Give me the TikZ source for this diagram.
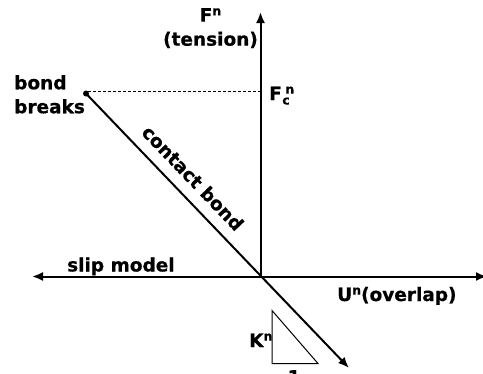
\documentclass[tikz,border=0pt]{standalone}
\usepackage{fontspec}
\setmainfont{DejaVu Sans}[BoldFeatures={FakeBold=0.6}]
\usetikzlibrary{arrows.meta}
\newcommand{\supn}{\raisebox{6.4pt}{\fontsize{12.5}{12}\selectfont n}}
\newcommand{\subc}{\raisebox{-4.5pt}{\fontsize{12.5}{12}\selectfont c}}
\begin{document}
\begin{tikzpicture}[x=1pt,y=1pt,
  lab/.style={font=\bfseries\fontsize{18.5}{24}\selectfont, inner sep=0pt, text=black},
  tipA/.style={-{Latex[length=11pt,width=9pt]}},
  axisline/.style={line width=2pt},
  thin line/.style={line width=1pt},
  dashline/.style={line width=0.8pt, dash pattern=on 3pt off 2pt}]
\useasboundingbox (0,0) rectangle (483,-373);
% coordinates
\coordinate (O) at (260.5,-276.5);
\coordinate (ytop) at (260.5,-12);
\coordinate (xleft) at (32,-276.5);
\coordinate (xright) at (487,-276.5);
\coordinate (dtip) at (349,-368);
\coordinate (dashend) at (260.5,-91.5);
\coordinate (dashstart) at (88,-91.5);
\coordinate (t1) at (272,-310.5);
\coordinate (t2) at (272,-363.5);
\coordinate (t3) at (318,-363.5);
% dot
\node[circle, fill=black, inner sep=0pt, minimum size=6pt] (dot) at (86,-93.5) {};
% axes
\draw[axisline, tipA] (O) -- (ytop);
\draw[axisline, {Latex[length=11pt,width=9pt]}-{Latex[length=11pt,width=9pt]}] (xleft) -- (xright);
\draw[axisline, tipA] (dot.center) -- (dtip);
\draw[dashline] (dashstart) -- (dashend);
\draw[thin line] (t1) -- (t2) -- (t3) -- cycle;
% labels
\node[lab, align=center, anchor=north] (fn) at (210.5,-8) {F\supn\\(tension)};
\node[lab, align=left, anchor=north west] (bb) at (14,-75) {bond\\breaks};
\node[lab, anchor=base west] (fc) at (269,-100) {F\hspace{0.5pt}\rlap{\subc}\hspace{3pt}\supn};
\node[lab, rotate=-46.2] (cb) at (193,-178) {contact bond};
\node[lab, anchor=base west] (slip) at (67,-271.5) {slip model};
\node[lab, anchor=base west] (un) at (337,-301) {U\supn(overlap)};
\node[lab, anchor=base west] (kn) at (249,-347) {K\supn};
\node[lab, anchor=north] (one) at (294,-370) {1};
\end{tikzpicture}
\end{document}
